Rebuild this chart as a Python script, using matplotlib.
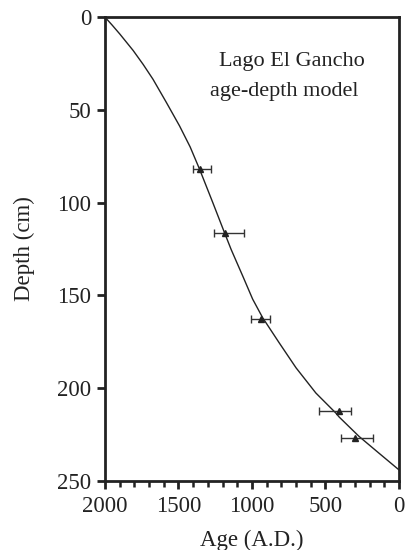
import matplotlib
matplotlib.use("Agg")
import matplotlib.pyplot as plt
import numpy as np
from matplotlib.ticker import MultipleLocator

# Age-depth model curve
curve_age = [2000, 1950, 1898, 1808, 1740, 1673, 1582, 1492, 1420, 1356, 1266, 1186, 1141,
             1060, 995, 927, 814, 700, 565, 429, 407, 271, 136, 0]
curve_depth = [0, 4.4, 9.2, 18, 25.5, 33.5, 46, 58.7, 70, 82, 100, 116.3, 125.3,
               140, 152, 162, 175.6, 189, 202.6, 213.4, 215.5, 226, 235, 244]

# Dated samples
pt_age = [1350, 1186, 936, 407, 298]
pt_depth = [82, 116.5, 162.5, 212.4, 226.6]
pt_age_min = [1281, 1053, 877, 323, 176]
pt_age_max = [1403, 1261, 1003, 542, 393]

title_lines = ['Lago El Gancho', 'age-depth model']

plt.rcParams['font.family'] = ['Liberation Serif', 'DejaVu Serif']
ink = '#222222'

fig = plt.figure(figsize=(4.05, 5.5), dpi=100)
ax = fig.add_axes([0.259, 0.1255, 0.726, 0.8435])

ax.plot(curve_age, curve_depth, color=ink, lw=1.0)

a = np.array(pt_age)
xerr = np.vstack([a - np.array(pt_age_min), np.array(pt_age_max) - a])
ax.errorbar(pt_age, pt_depth, xerr=xerr, fmt='^', ms=4, color=ink,
            ecolor='#333333', elinewidth=1.0, capsize=3, capthick=1.0)

ax.set_xlim(2000, 0)
ax.set_ylim(250, 0)
ax.set_xticks([2000, 1500, 1000, 500, 0])
ax.xaxis.set_minor_locator(MultipleLocator(100))
ax.set_yticks([0, 50, 100, 150, 200, 250])

for s in ax.spines.values():
    s.set_linewidth(2.0)
    s.set_color(ink)

ax.tick_params(axis='both', which='major', direction='out', length=6, width=2.0,
               labelsize=16.5, color=ink, labelcolor=ink)
ax.tick_params(axis='x', which='major', pad=5)
ax.tick_params(axis='y', which='major', pad=4)
ax.tick_params(axis='x', which='minor', direction='out', length=4, width=1.8,
               color=ink)
ax.tick_params(axis='y', which='minor', left=False)

ax.set_xlabel('Age (A.D.)', fontsize=16.5, color=ink, labelpad=9)
ax.set_ylabel('Depth (cm)', fontsize=16.5, color=ink, labelpad=16)

ax.text(0.636, 0.894, title_lines[0], transform=ax.transAxes,
        ha='center', va='baseline', fontsize=16, color=ink)
ax.text(0.609, 0.830, title_lines[1], transform=ax.transAxes,
        ha='center', va='baseline', fontsize=16, color=ink)

fig.savefig('out.png', dpi=100)
